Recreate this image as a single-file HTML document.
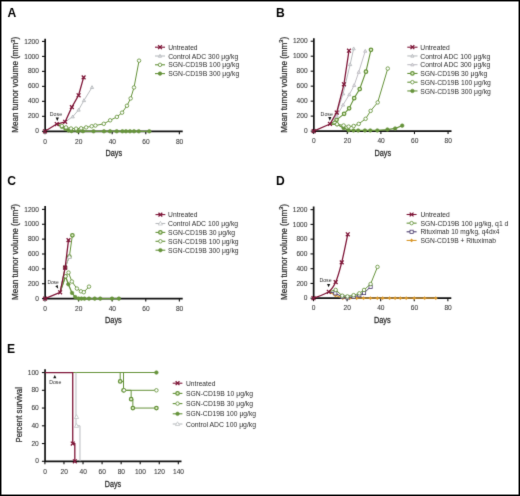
<!DOCTYPE html><html><head><meta charset="utf-8"><style>html,body{margin:0;padding:0;background:#fff;width:520px;height:496px;overflow:hidden}svg{display:block}text{font-family:"Liberation Sans",sans-serif}</style></head><body>
<svg width="520" height="496" viewBox="0 0 520 496">
<defs><filter id="bl" x="0" y="0" width="520" height="496" filterUnits="userSpaceOnUse" color-interpolation-filters="sRGB"><feConvolveMatrix order="3" kernelMatrix="0.01 0.08 0.01 0.08 0.64 0.08 0.01 0.08 0.01" edgeMode="duplicate" preserveAlpha="true"/></filter></defs>
<g filter="url(#bl)">
<rect x="0" y="0" width="520" height="496" fill="#fff"/>
<text x="7.6" y="16.7" font-size="12.1" text-anchor="start" fill="#000" color="#000" font-weight="bold">A</text>
<text x="276" y="16.8" font-size="12.1" text-anchor="start" fill="#000" color="#000" font-weight="bold">B</text>
<text x="7.3" y="184.5" font-size="12.1" text-anchor="start" fill="#000" color="#000" font-weight="bold">C</text>
<text x="276" y="184.6" font-size="12.1" text-anchor="start" fill="#000" color="#000" font-weight="bold">D</text>
<text x="7.1" y="352.6" font-size="12.1" text-anchor="start" fill="#000" color="#000" font-weight="bold">E</text>
<path d="M45.15 38.7V131.3H182.7" stroke="#111" stroke-width="1.7" fill="none"/>
<path d="M42 131.3H45" stroke="#111" stroke-width="1.1"/>
<text x="38.9" y="133.4" font-size="6.6" text-anchor="end" fill="#404040" color="#404040" stroke="#404040" stroke-width="0.1">0</text>
<path d="M42 116.32H45" stroke="#111" stroke-width="1.1"/>
<text x="38.9" y="118.42" font-size="6.6" text-anchor="end" fill="#404040" color="#404040" stroke="#404040" stroke-width="0.1">200</text>
<path d="M42 101.34H45" stroke="#111" stroke-width="1.1"/>
<text x="38.9" y="103.44" font-size="6.6" text-anchor="end" fill="#404040" color="#404040" stroke="#404040" stroke-width="0.1">400</text>
<path d="M42 86.36H45" stroke="#111" stroke-width="1.1"/>
<text x="38.9" y="88.46" font-size="6.6" text-anchor="end" fill="#404040" color="#404040" stroke="#404040" stroke-width="0.1">600</text>
<path d="M42 71.38H45" stroke="#111" stroke-width="1.1"/>
<text x="38.9" y="73.48" font-size="6.6" text-anchor="end" fill="#404040" color="#404040" stroke="#404040" stroke-width="0.1">800</text>
<path d="M42 56.4H45" stroke="#111" stroke-width="1.1"/>
<text x="38.9" y="58.5" font-size="6.6" text-anchor="end" fill="#404040" color="#404040" stroke="#404040" stroke-width="0.1">1000</text>
<path d="M42 41.42H45" stroke="#111" stroke-width="1.1"/>
<text x="38.9" y="43.52" font-size="6.6" text-anchor="end" fill="#404040" color="#404040" stroke="#404040" stroke-width="0.1">1200</text>
<path d="M45 131.3V134.3" stroke="#111" stroke-width="1.1"/>
<text x="45.2" y="143.5" font-size="6.6" text-anchor="middle" fill="#404040" color="#404040" stroke="#404040" stroke-width="0.1">0</text>
<path d="M78.59 131.3V134.3" stroke="#111" stroke-width="1.1"/>
<text x="78.79" y="143.5" font-size="6.6" text-anchor="middle" fill="#404040" color="#404040" stroke="#404040" stroke-width="0.1">20</text>
<path d="M112.18 131.3V134.3" stroke="#111" stroke-width="1.1"/>
<text x="112.38" y="143.5" font-size="6.6" text-anchor="middle" fill="#404040" color="#404040" stroke="#404040" stroke-width="0.1">40</text>
<path d="M145.77 131.3V134.3" stroke="#111" stroke-width="1.1"/>
<text x="145.97" y="143.5" font-size="6.6" text-anchor="middle" fill="#404040" color="#404040" stroke="#404040" stroke-width="0.1">60</text>
<path d="M179.36 131.3V134.3" stroke="#111" stroke-width="1.1"/>
<text x="179.56" y="143.5" font-size="6.6" text-anchor="middle" fill="#404040" color="#404040" stroke="#404040" stroke-width="0.1">80</text>
<text x="18.3" y="84.8" font-size="8.4" text-anchor="middle" fill="#2e2e2e" color="#2e2e2e" stroke="#2e2e2e" stroke-width="0.25" transform="rotate(-90 18.3 84.8)" textLength="96" lengthAdjust="spacingAndGlyphs">Mean tumor volume (mm<tspan dy="-3.6" font-size="5.8">3</tspan><tspan dy="3.6">)</tspan></text>
<text x="113.8" y="155.7" font-size="9.3" text-anchor="middle" fill="#2e2e2e" color="#2e2e2e" textLength="16.6" lengthAdjust="spacingAndGlyphs" stroke="#2e2e2e" stroke-width="0.3">Days</text>
<path d="M56.76 124.03L61.8 126.81L65.49 128.9L68.51 130.4L71.54 131.08L77.92 131.15L82.96 131.23L93.54 131.3L103.95 131.3L110 131.3L116.71 131.3L122.42 131.3L125.95 131.3L129.98 131.3L134.01 131.3L138.72 131.3L149.3 131.3" stroke="#66933b" stroke-width="1.3" fill="none" stroke-linejoin="round"/>
<circle cx="61.8" cy="126.81" r="1.8" stroke="#66933b" stroke-width="0.6" fill="#66933b"/>
<circle cx="65.49" cy="128.9" r="1.8" stroke="#66933b" stroke-width="0.6" fill="#66933b"/>
<circle cx="68.51" cy="130.4" r="1.8" stroke="#66933b" stroke-width="0.6" fill="#66933b"/>
<circle cx="71.54" cy="131.08" r="1.8" stroke="#66933b" stroke-width="0.6" fill="#66933b"/>
<circle cx="77.92" cy="131.15" r="1.8" stroke="#66933b" stroke-width="0.6" fill="#66933b"/>
<circle cx="82.96" cy="131.23" r="1.8" stroke="#66933b" stroke-width="0.6" fill="#66933b"/>
<circle cx="93.54" cy="131.3" r="1.8" stroke="#66933b" stroke-width="0.6" fill="#66933b"/>
<circle cx="103.95" cy="131.3" r="1.8" stroke="#66933b" stroke-width="0.6" fill="#66933b"/>
<circle cx="110" cy="131.3" r="1.8" stroke="#66933b" stroke-width="0.6" fill="#66933b"/>
<circle cx="116.71" cy="131.3" r="1.8" stroke="#66933b" stroke-width="0.6" fill="#66933b"/>
<circle cx="122.42" cy="131.3" r="1.8" stroke="#66933b" stroke-width="0.6" fill="#66933b"/>
<circle cx="125.95" cy="131.3" r="1.8" stroke="#66933b" stroke-width="0.6" fill="#66933b"/>
<circle cx="129.98" cy="131.3" r="1.8" stroke="#66933b" stroke-width="0.6" fill="#66933b"/>
<circle cx="134.01" cy="131.3" r="1.8" stroke="#66933b" stroke-width="0.6" fill="#66933b"/>
<circle cx="138.72" cy="131.3" r="1.8" stroke="#66933b" stroke-width="0.6" fill="#66933b"/>
<circle cx="149.3" cy="131.3" r="1.8" stroke="#66933b" stroke-width="0.6" fill="#66933b"/>
<path d="M56.76 124.03L61.8 125.91L65.99 127.41L71.03 128.53L76.07 128.68L81.11 128.3L86.15 127.41L91.69 126.28L95.38 125.53L103.78 123.81L110.16 120.29L116.88 116.92L122.09 112.65L126.96 105.76L130.65 98.42L134.01 87.48L139.05 60.67" stroke="#66933b" stroke-width="1.0" fill="none" stroke-linejoin="round"/>
<circle cx="61.8" cy="125.91" r="1.75" stroke="#66933b" stroke-width="0.85" fill="#fff"/>
<circle cx="65.99" cy="127.41" r="1.75" stroke="#66933b" stroke-width="0.85" fill="#fff"/>
<circle cx="71.03" cy="128.53" r="1.75" stroke="#66933b" stroke-width="0.85" fill="#fff"/>
<circle cx="76.07" cy="128.68" r="1.75" stroke="#66933b" stroke-width="0.85" fill="#fff"/>
<circle cx="81.11" cy="128.3" r="1.75" stroke="#66933b" stroke-width="0.85" fill="#fff"/>
<circle cx="86.15" cy="127.41" r="1.75" stroke="#66933b" stroke-width="0.85" fill="#fff"/>
<circle cx="91.69" cy="126.28" r="1.75" stroke="#66933b" stroke-width="0.85" fill="#fff"/>
<circle cx="95.38" cy="125.53" r="1.75" stroke="#66933b" stroke-width="0.85" fill="#fff"/>
<circle cx="103.78" cy="123.81" r="1.75" stroke="#66933b" stroke-width="0.85" fill="#fff"/>
<circle cx="110.16" cy="120.29" r="1.75" stroke="#66933b" stroke-width="0.85" fill="#fff"/>
<circle cx="116.88" cy="116.92" r="1.75" stroke="#66933b" stroke-width="0.85" fill="#fff"/>
<circle cx="122.09" cy="112.65" r="1.75" stroke="#66933b" stroke-width="0.85" fill="#fff"/>
<circle cx="126.96" cy="105.76" r="1.75" stroke="#66933b" stroke-width="0.85" fill="#fff"/>
<circle cx="130.65" cy="98.42" r="1.75" stroke="#66933b" stroke-width="0.85" fill="#fff"/>
<circle cx="134.01" cy="87.48" r="1.75" stroke="#66933b" stroke-width="0.85" fill="#fff"/>
<circle cx="139.05" cy="60.67" r="1.75" stroke="#66933b" stroke-width="0.85" fill="#fff"/>
<path d="M65.15 121.79L72.71 116.69L78.59 109.95L83.96 100.44L92.03 87.33" stroke="#b9bcbf" stroke-width="1.0" fill="none" stroke-linejoin="round"/>
<path d="M72.71 114.99L74.33 117.88L71.1 117.88Z" stroke="#b9bcbf" stroke-width="0.9" fill="#e4e4e6"/>
<path d="M78.59 108.25L80.2 111.14L76.98 111.14Z" stroke="#b9bcbf" stroke-width="0.9" fill="#e4e4e6"/>
<path d="M83.96 98.74L85.58 101.63L82.35 101.63Z" stroke="#b9bcbf" stroke-width="0.9" fill="#e4e4e6"/>
<path d="M92.03 85.63L93.64 88.52L90.41 88.52Z" stroke="#b9bcbf" stroke-width="0.9" fill="#e4e4e6"/>
<path d="M45 131.3L56.76 124.03L65.15 121.79L71.87 107.11L78.59 95.27L83.63 77.37" stroke="#7f1739" stroke-width="1.3" fill="none" stroke-linejoin="round"/>
<path d="M43.1 129.4L46.9 133.2M43.1 133.2L46.9 129.4" stroke="#7f1739" stroke-width="1.3" fill="none"/>
<path d="M54.86 122.13L58.66 125.93M54.86 125.93L58.66 122.13" stroke="#7f1739" stroke-width="1.3" fill="none"/>
<path d="M63.25 119.89L67.05 123.69M63.25 123.69L67.05 119.89" stroke="#7f1739" stroke-width="1.3" fill="none"/>
<path d="M69.97 105.21L73.77 109.01M69.97 109.01L73.77 105.21" stroke="#7f1739" stroke-width="1.3" fill="none"/>
<path d="M76.69 93.37L80.49 97.17M76.69 97.17L80.49 93.37" stroke="#7f1739" stroke-width="1.3" fill="none"/>
<path d="M81.73 75.47L85.53 79.27M81.73 79.27L85.53 75.47" stroke="#7f1739" stroke-width="1.3" fill="none"/>
<text x="49.8" y="115.5" font-size="5.5" text-anchor="start" fill="#2e2e2e" color="#2e2e2e" textLength="12.3" lengthAdjust="spacingAndGlyphs">Dose</text>
<path d="M55.7 117.4H58.9L57.3 121Z" fill="#111"/>
<path d="M155 47.2H165" stroke="#7f1739" stroke-width="1.1"/>
<path d="M158.1 45.3L161.9 49.1M158.1 49.1L161.9 45.3" stroke="#7f1739" stroke-width="1.3" fill="none"/>
<text x="168.2" y="49.8" font-size="6.8" text-anchor="start" fill="#2e2e2e" color="#2e2e2e" textLength="29.4" lengthAdjust="spacingAndGlyphs">Untreated</text>
<path d="M155 56H165" stroke="#b9bcbf" stroke-width="1.1"/>
<path d="M160 54.3L161.62 57.19L158.38 57.19Z" stroke="#b9bcbf" stroke-width="0.9" fill="#e4e4e6"/>
<text x="168.2" y="58.6" font-size="6.8" text-anchor="start" fill="#2e2e2e" color="#2e2e2e" textLength="70" lengthAdjust="spacingAndGlyphs">Control ADC 300 μg/kg</text>
<path d="M155 64.8H165" stroke="#66933b" stroke-width="1.1"/>
<circle cx="160" cy="64.8" r="1.75" stroke="#66933b" stroke-width="0.85" fill="#fff"/>
<text x="168.2" y="67.4" font-size="6.8" text-anchor="start" fill="#2e2e2e" color="#2e2e2e" textLength="71" lengthAdjust="spacingAndGlyphs">SGN-CD19B 100 μg/kg</text>
<path d="M155 73.6H165" stroke="#66933b" stroke-width="1.1"/>
<circle cx="160" cy="73.6" r="1.8" stroke="#66933b" stroke-width="0.6" fill="#66933b"/>
<text x="168.2" y="76.2" font-size="6.8" text-anchor="start" fill="#2e2e2e" color="#2e2e2e" textLength="71" lengthAdjust="spacingAndGlyphs">SGN-CD19B 300 μg/kg</text>
<path d="M313.85 38.3V131.1H451.5" stroke="#111" stroke-width="1.7" fill="none"/>
<path d="M310.7 131.1H313.7" stroke="#111" stroke-width="1.1"/>
<text x="307.6" y="133.2" font-size="6.6" text-anchor="end" fill="#404040" color="#404040" stroke="#404040" stroke-width="0.1">0</text>
<path d="M310.7 116.12H313.7" stroke="#111" stroke-width="1.1"/>
<text x="307.6" y="118.22" font-size="6.6" text-anchor="end" fill="#404040" color="#404040" stroke="#404040" stroke-width="0.1">200</text>
<path d="M310.7 101.14H313.7" stroke="#111" stroke-width="1.1"/>
<text x="307.6" y="103.24" font-size="6.6" text-anchor="end" fill="#404040" color="#404040" stroke="#404040" stroke-width="0.1">400</text>
<path d="M310.7 86.16H313.7" stroke="#111" stroke-width="1.1"/>
<text x="307.6" y="88.26" font-size="6.6" text-anchor="end" fill="#404040" color="#404040" stroke="#404040" stroke-width="0.1">600</text>
<path d="M310.7 71.18H313.7" stroke="#111" stroke-width="1.1"/>
<text x="307.6" y="73.28" font-size="6.6" text-anchor="end" fill="#404040" color="#404040" stroke="#404040" stroke-width="0.1">800</text>
<path d="M310.7 56.2H313.7" stroke="#111" stroke-width="1.1"/>
<text x="307.6" y="58.3" font-size="6.6" text-anchor="end" fill="#404040" color="#404040" stroke="#404040" stroke-width="0.1">1000</text>
<path d="M310.7 41.22H313.7" stroke="#111" stroke-width="1.1"/>
<text x="307.6" y="43.32" font-size="6.6" text-anchor="end" fill="#404040" color="#404040" stroke="#404040" stroke-width="0.1">1200</text>
<path d="M313.7 131.1V134.1" stroke="#111" stroke-width="1.1"/>
<text x="313.9" y="143.3" font-size="6.6" text-anchor="middle" fill="#404040" color="#404040" stroke="#404040" stroke-width="0.1">0</text>
<path d="M347.29 131.1V134.1" stroke="#111" stroke-width="1.1"/>
<text x="347.49" y="143.3" font-size="6.6" text-anchor="middle" fill="#404040" color="#404040" stroke="#404040" stroke-width="0.1">20</text>
<path d="M380.88 131.1V134.1" stroke="#111" stroke-width="1.1"/>
<text x="381.08" y="143.3" font-size="6.6" text-anchor="middle" fill="#404040" color="#404040" stroke="#404040" stroke-width="0.1">40</text>
<path d="M414.47 131.1V134.1" stroke="#111" stroke-width="1.1"/>
<text x="414.67" y="143.3" font-size="6.6" text-anchor="middle" fill="#404040" color="#404040" stroke="#404040" stroke-width="0.1">60</text>
<path d="M448.06 131.1V134.1" stroke="#111" stroke-width="1.1"/>
<text x="448.26" y="143.3" font-size="6.6" text-anchor="middle" fill="#404040" color="#404040" stroke="#404040" stroke-width="0.1">80</text>
<text x="287" y="84.8" font-size="8.4" text-anchor="middle" fill="#2e2e2e" color="#2e2e2e" stroke="#2e2e2e" stroke-width="0.25" transform="rotate(-90 287 84.8)" textLength="96" lengthAdjust="spacingAndGlyphs">Mean tumor volume (mm<tspan dy="-3.6" font-size="5.8">3</tspan><tspan dy="3.6">)</tspan></text>
<text x="382.8" y="155.7" font-size="9.3" text-anchor="middle" fill="#2e2e2e" color="#2e2e2e" textLength="16.6" lengthAdjust="spacingAndGlyphs" stroke="#2e2e2e" stroke-width="0.3">Days</text>
<path d="M329.99 123.98L337.05 124.28L343.6 128.1L348.63 130.2L353.5 130.43L358.21 130.43L364.92 130.43L370.3 130.43L377.35 130.43L387.43 129.53L395.16 128.48L402.21 125.63" stroke="#66933b" stroke-width="1.3" fill="none" stroke-linejoin="round"/>
<circle cx="337.05" cy="124.28" r="1.8" stroke="#66933b" stroke-width="0.6" fill="#66933b"/>
<circle cx="343.6" cy="128.1" r="1.8" stroke="#66933b" stroke-width="0.6" fill="#66933b"/>
<circle cx="348.63" cy="130.2" r="1.8" stroke="#66933b" stroke-width="0.6" fill="#66933b"/>
<circle cx="353.5" cy="130.43" r="1.8" stroke="#66933b" stroke-width="0.6" fill="#66933b"/>
<circle cx="358.21" cy="130.43" r="1.8" stroke="#66933b" stroke-width="0.6" fill="#66933b"/>
<circle cx="364.92" cy="130.43" r="1.8" stroke="#66933b" stroke-width="0.6" fill="#66933b"/>
<circle cx="370.3" cy="130.43" r="1.8" stroke="#66933b" stroke-width="0.6" fill="#66933b"/>
<circle cx="377.35" cy="130.43" r="1.8" stroke="#66933b" stroke-width="0.6" fill="#66933b"/>
<circle cx="387.43" cy="129.53" r="1.8" stroke="#66933b" stroke-width="0.6" fill="#66933b"/>
<circle cx="395.16" cy="128.48" r="1.8" stroke="#66933b" stroke-width="0.6" fill="#66933b"/>
<circle cx="402.21" cy="125.63" r="1.8" stroke="#66933b" stroke-width="0.6" fill="#66933b"/>
<path d="M329.99 123.98L337.05 124.28L343.6 125.48L348.63 126.61L353.67 126.01L358.71 123.91L365.6 118.82L370.64 110.88L377.69 102.41L387.77 68.56" stroke="#66933b" stroke-width="1.0" fill="none" stroke-linejoin="round"/>
<circle cx="337.05" cy="124.28" r="1.75" stroke="#66933b" stroke-width="0.85" fill="#fff"/>
<circle cx="343.6" cy="125.48" r="1.75" stroke="#66933b" stroke-width="0.85" fill="#fff"/>
<circle cx="348.63" cy="126.61" r="1.75" stroke="#66933b" stroke-width="0.85" fill="#fff"/>
<circle cx="353.67" cy="126.01" r="1.75" stroke="#66933b" stroke-width="0.85" fill="#fff"/>
<circle cx="358.71" cy="123.91" r="1.75" stroke="#66933b" stroke-width="0.85" fill="#fff"/>
<circle cx="365.6" cy="118.82" r="1.75" stroke="#66933b" stroke-width="0.85" fill="#fff"/>
<circle cx="370.64" cy="110.88" r="1.75" stroke="#66933b" stroke-width="0.85" fill="#fff"/>
<circle cx="377.69" cy="102.41" r="1.75" stroke="#66933b" stroke-width="0.85" fill="#fff"/>
<circle cx="387.77" cy="68.56" r="1.75" stroke="#66933b" stroke-width="0.85" fill="#fff"/>
<path d="M329.99 123.98L336.54 119.86L344.1 113.87L349.14 108.26L354.18 98.14L359.72 89.01L365.93 71.7L370.97 49.83" stroke="#66933b" stroke-width="1.1" fill="none" stroke-linejoin="round"/>
<circle cx="336.54" cy="119.86" r="1.75" stroke="#66933b" stroke-width="1.25" fill="#dfeec8"/>
<circle cx="344.1" cy="113.87" r="1.75" stroke="#66933b" stroke-width="1.25" fill="#dfeec8"/>
<circle cx="349.14" cy="108.26" r="1.75" stroke="#66933b" stroke-width="1.25" fill="#dfeec8"/>
<circle cx="354.18" cy="98.14" r="1.75" stroke="#66933b" stroke-width="1.25" fill="#dfeec8"/>
<circle cx="359.72" cy="89.01" r="1.75" stroke="#66933b" stroke-width="1.25" fill="#dfeec8"/>
<circle cx="365.93" cy="71.7" r="1.75" stroke="#66933b" stroke-width="1.25" fill="#dfeec8"/>
<circle cx="370.97" cy="49.83" r="1.75" stroke="#66933b" stroke-width="1.25" fill="#dfeec8"/>
<path d="M329.99 123.98L336.71 116.12L343.09 104.88L349.31 94.55L354.18 85.34L358.71 72.15L365.26 51.03" stroke="#bfbdc4" stroke-width="1.0" fill="none" stroke-linejoin="round"/>
<path d="M336.71 114.42L338.32 117.31L335.09 117.31Z" stroke="#bfbdc4" stroke-width="0.9" fill="#e4e4e6"/>
<path d="M343.09 103.18L344.71 106.07L341.48 106.07Z" stroke="#bfbdc4" stroke-width="0.9" fill="#e4e4e6"/>
<path d="M349.31 92.85L350.92 95.74L347.69 95.74Z" stroke="#bfbdc4" stroke-width="0.9" fill="#e4e4e6"/>
<path d="M354.18 83.64L355.79 86.53L352.56 86.53Z" stroke="#bfbdc4" stroke-width="0.9" fill="#e4e4e6"/>
<path d="M358.71 70.45L360.33 73.34L357.1 73.34Z" stroke="#bfbdc4" stroke-width="0.9" fill="#e4e4e6"/>
<path d="M365.26 49.33L366.88 52.22L363.65 52.22Z" stroke="#bfbdc4" stroke-width="0.9" fill="#e4e4e6"/>
<path d="M329.99 123.98L336.71 113.12L343.09 93.65L350.15 64.44L353.67 48.64" stroke="#b9bcbf" stroke-width="1.0" fill="none" stroke-linejoin="round"/>
<path d="M336.71 111.42L338.32 114.31L335.09 114.31Z" stroke="#b9bcbf" stroke-width="0.9" fill="#e4e4e6"/>
<path d="M343.09 91.95L344.71 94.84L341.48 94.84Z" stroke="#b9bcbf" stroke-width="0.9" fill="#e4e4e6"/>
<path d="M350.15 62.74L351.76 65.63L348.53 65.63Z" stroke="#b9bcbf" stroke-width="0.9" fill="#e4e4e6"/>
<path d="M353.67 46.94L355.29 49.83L352.06 49.83Z" stroke="#b9bcbf" stroke-width="0.9" fill="#e4e4e6"/>
<path d="M313.7 131.1L329.99 123.98L336.71 112.52L343.93 84.29L348.97 50.73" stroke="#7f1739" stroke-width="1.3" fill="none" stroke-linejoin="round"/>
<path d="M311.8 129.2L315.6 133M311.8 133L315.6 129.2" stroke="#7f1739" stroke-width="1.3" fill="none"/>
<path d="M328.09 122.08L331.89 125.88M328.09 125.88L331.89 122.08" stroke="#7f1739" stroke-width="1.3" fill="none"/>
<path d="M334.81 110.62L338.61 114.42M334.81 114.42L338.61 110.62" stroke="#7f1739" stroke-width="1.3" fill="none"/>
<path d="M342.03 82.39L345.83 86.19M342.03 86.19L345.83 82.39" stroke="#7f1739" stroke-width="1.3" fill="none"/>
<path d="M347.07 48.83L350.87 52.63M347.07 52.63L350.87 48.83" stroke="#7f1739" stroke-width="1.3" fill="none"/>
<text x="320.6" y="115.6" font-size="5.5" text-anchor="start" fill="#2e2e2e" color="#2e2e2e" textLength="12.3" lengthAdjust="spacingAndGlyphs">Dose</text>
<path d="M328.2 117.1H331.4L329.8 120.7Z" fill="#111"/>
<path d="M407.3 47.2H417.5" stroke="#7f1739" stroke-width="1.1"/>
<path d="M410.5 45.3L414.3 49.1M410.5 49.1L414.3 45.3" stroke="#7f1739" stroke-width="1.3" fill="none"/>
<text x="420.3" y="49.8" font-size="6.8" text-anchor="start" fill="#2e2e2e" color="#2e2e2e" textLength="29.4" lengthAdjust="spacingAndGlyphs">Untreated</text>
<path d="M407.3 55.95H417.5" stroke="#b9bcbf" stroke-width="1.1"/>
<path d="M412.4 54.25L414.01 57.14L410.78 57.14Z" stroke="#b9bcbf" stroke-width="0.9" fill="#e4e4e6"/>
<text x="420.3" y="58.55" font-size="6.8" text-anchor="start" fill="#2e2e2e" color="#2e2e2e" textLength="70" lengthAdjust="spacingAndGlyphs">Control ADC 100 μg/kg</text>
<path d="M407.3 64.7H417.5" stroke="#bfbdc4" stroke-width="1.1"/>
<path d="M412.4 63L414.01 65.89L410.78 65.89Z" stroke="#bfbdc4" stroke-width="0.9" fill="#e4e4e6"/>
<text x="420.3" y="67.3" font-size="6.8" text-anchor="start" fill="#2e2e2e" color="#2e2e2e" textLength="70" lengthAdjust="spacingAndGlyphs">Control ADC 300 μg/kg</text>
<path d="M407.3 73.45H417.5" stroke="#66933b" stroke-width="1.1"/>
<circle cx="412.4" cy="73.45" r="1.75" stroke="#66933b" stroke-width="1.25" fill="#dfeec8"/>
<text x="420.3" y="76.05" font-size="6.8" text-anchor="start" fill="#2e2e2e" color="#2e2e2e" textLength="67" lengthAdjust="spacingAndGlyphs">SGN-CD19B 30 μg/kg</text>
<path d="M407.3 82.2H417.5" stroke="#66933b" stroke-width="1.1"/>
<circle cx="412.4" cy="82.2" r="1.75" stroke="#66933b" stroke-width="0.85" fill="#fff"/>
<text x="420.3" y="84.8" font-size="6.8" text-anchor="start" fill="#2e2e2e" color="#2e2e2e" textLength="70.5" lengthAdjust="spacingAndGlyphs">SGN-CD19B 100 μg/kg</text>
<path d="M407.3 90.95H417.5" stroke="#66933b" stroke-width="1.1"/>
<circle cx="412.4" cy="90.95" r="1.8" stroke="#66933b" stroke-width="0.6" fill="#66933b"/>
<text x="420.3" y="93.55" font-size="6.8" text-anchor="start" fill="#2e2e2e" color="#2e2e2e" textLength="70.5" lengthAdjust="spacingAndGlyphs">SGN-CD19B 300 μg/kg</text>
<path d="M45.15 206.1V298.6H182.7" stroke="#111" stroke-width="1.7" fill="none"/>
<path d="M42 298.6H45" stroke="#111" stroke-width="1.1"/>
<text x="38.9" y="300.7" font-size="6.6" text-anchor="end" fill="#404040" color="#404040" stroke="#404040" stroke-width="0.1">0</text>
<path d="M42 283.73H45" stroke="#111" stroke-width="1.1"/>
<text x="38.9" y="285.83" font-size="6.6" text-anchor="end" fill="#404040" color="#404040" stroke="#404040" stroke-width="0.1">200</text>
<path d="M42 268.87H45" stroke="#111" stroke-width="1.1"/>
<text x="38.9" y="270.97" font-size="6.6" text-anchor="end" fill="#404040" color="#404040" stroke="#404040" stroke-width="0.1">400</text>
<path d="M42 254H45" stroke="#111" stroke-width="1.1"/>
<text x="38.9" y="256.1" font-size="6.6" text-anchor="end" fill="#404040" color="#404040" stroke="#404040" stroke-width="0.1">600</text>
<path d="M42 239.14H45" stroke="#111" stroke-width="1.1"/>
<text x="38.9" y="241.24" font-size="6.6" text-anchor="end" fill="#404040" color="#404040" stroke="#404040" stroke-width="0.1">800</text>
<path d="M42 224.27H45" stroke="#111" stroke-width="1.1"/>
<text x="38.9" y="226.37" font-size="6.6" text-anchor="end" fill="#404040" color="#404040" stroke="#404040" stroke-width="0.1">1000</text>
<path d="M42 209.4H45" stroke="#111" stroke-width="1.1"/>
<text x="38.9" y="211.5" font-size="6.6" text-anchor="end" fill="#404040" color="#404040" stroke="#404040" stroke-width="0.1">1200</text>
<path d="M45 298.6V301.6" stroke="#111" stroke-width="1.1"/>
<text x="45.2" y="310.8" font-size="6.6" text-anchor="middle" fill="#404040" color="#404040" stroke="#404040" stroke-width="0.1">0</text>
<path d="M78.59 298.6V301.6" stroke="#111" stroke-width="1.1"/>
<text x="78.79" y="310.8" font-size="6.6" text-anchor="middle" fill="#404040" color="#404040" stroke="#404040" stroke-width="0.1">20</text>
<path d="M112.18 298.6V301.6" stroke="#111" stroke-width="1.1"/>
<text x="112.38" y="310.8" font-size="6.6" text-anchor="middle" fill="#404040" color="#404040" stroke="#404040" stroke-width="0.1">40</text>
<path d="M145.77 298.6V301.6" stroke="#111" stroke-width="1.1"/>
<text x="145.97" y="310.8" font-size="6.6" text-anchor="middle" fill="#404040" color="#404040" stroke="#404040" stroke-width="0.1">60</text>
<path d="M179.36 298.6V301.6" stroke="#111" stroke-width="1.1"/>
<text x="179.56" y="310.8" font-size="6.6" text-anchor="middle" fill="#404040" color="#404040" stroke="#404040" stroke-width="0.1">80</text>
<text x="18.4" y="252" font-size="8.4" text-anchor="middle" fill="#2e2e2e" color="#2e2e2e" stroke="#2e2e2e" stroke-width="0.25" transform="rotate(-90 18.4 252)" textLength="96" lengthAdjust="spacingAndGlyphs">Mean tumor volume (mm<tspan dy="-3.6" font-size="5.8">3</tspan><tspan dy="3.6">)</tspan></text>
<text x="113.4" y="323.4" font-size="9.3" text-anchor="middle" fill="#2e2e2e" color="#2e2e2e" textLength="16.8" lengthAdjust="spacingAndGlyphs" stroke="#2e2e2e" stroke-width="0.3">Days</text>
<path d="M60.12 292.28L65.49 276.3L68.35 284.18L72.04 292.95L75.23 297.11L78.59 298.6L81.45 298.6L84.47 298.6L89 298.6L94.71 298.6L100.26 298.6L112.01 298.6L118.9 298.6" stroke="#66933b" stroke-width="1.3" fill="none" stroke-linejoin="round"/>
<circle cx="65.49" cy="276.3" r="1.8" stroke="#66933b" stroke-width="0.6" fill="#66933b"/>
<circle cx="68.35" cy="284.18" r="1.8" stroke="#66933b" stroke-width="0.6" fill="#66933b"/>
<circle cx="72.04" cy="292.95" r="1.8" stroke="#66933b" stroke-width="0.6" fill="#66933b"/>
<circle cx="75.23" cy="297.11" r="1.8" stroke="#66933b" stroke-width="0.6" fill="#66933b"/>
<circle cx="78.59" cy="298.6" r="1.8" stroke="#66933b" stroke-width="0.6" fill="#66933b"/>
<circle cx="81.45" cy="298.6" r="1.8" stroke="#66933b" stroke-width="0.6" fill="#66933b"/>
<circle cx="84.47" cy="298.6" r="1.8" stroke="#66933b" stroke-width="0.6" fill="#66933b"/>
<circle cx="89" cy="298.6" r="1.8" stroke="#66933b" stroke-width="0.6" fill="#66933b"/>
<circle cx="94.71" cy="298.6" r="1.8" stroke="#66933b" stroke-width="0.6" fill="#66933b"/>
<circle cx="100.26" cy="298.6" r="1.8" stroke="#66933b" stroke-width="0.6" fill="#66933b"/>
<circle cx="112.01" cy="298.6" r="1.8" stroke="#66933b" stroke-width="0.6" fill="#66933b"/>
<circle cx="118.9" cy="298.6" r="1.8" stroke="#66933b" stroke-width="0.6" fill="#66933b"/>
<path d="M60.12 292.28L65.49 276.3L68.51 272.58L71.87 281.5L76.91 288.57L80.94 291.32L83.8 292.21L89 286.63" stroke="#66933b" stroke-width="1.0" fill="none" stroke-linejoin="round"/>
<circle cx="65.49" cy="276.3" r="1.75" stroke="#66933b" stroke-width="0.85" fill="#fff"/>
<circle cx="68.51" cy="272.58" r="1.75" stroke="#66933b" stroke-width="0.85" fill="#fff"/>
<circle cx="71.87" cy="281.5" r="1.75" stroke="#66933b" stroke-width="0.85" fill="#fff"/>
<circle cx="76.91" cy="288.57" r="1.75" stroke="#66933b" stroke-width="0.85" fill="#fff"/>
<circle cx="80.94" cy="291.32" r="1.75" stroke="#66933b" stroke-width="0.85" fill="#fff"/>
<circle cx="83.8" cy="292.21" r="1.75" stroke="#66933b" stroke-width="0.85" fill="#fff"/>
<circle cx="89" cy="286.63" r="1.75" stroke="#66933b" stroke-width="0.85" fill="#fff"/>
<path d="M60.12 292.28L65.15 267.68L69.35 256.68L72.38 235.27" stroke="#66933b" stroke-width="1.0" fill="none" stroke-linejoin="round"/>
<circle cx="65.15" cy="267.68" r="1.75" stroke="#66933b" stroke-width="1.25" fill="#dfeec8"/>
<circle cx="69.35" cy="256.68" r="1.75" stroke="#66933b" stroke-width="1.25" fill="#dfeec8"/>
<circle cx="72.38" cy="235.27" r="1.75" stroke="#66933b" stroke-width="1.25" fill="#dfeec8"/>
<path d="M60.12 292.28L65.15 267.68L69.35 256.98" stroke="#b9bcbf" stroke-width="0.9" fill="none" stroke-linejoin="round"/>
<path d="M65.15 265.48L67.24 269.22L63.06 269.22Z" stroke="#b9bcbf" stroke-width="0.7" fill="#fff"/>
<path d="M69.35 254.78L71.44 258.52L67.26 258.52Z" stroke="#b9bcbf" stroke-width="0.7" fill="#fff"/>
<path d="M45 298.6L60.12 292.28L65.15 267.68L68.51 240.1" stroke="#7f1739" stroke-width="1.3" fill="none" stroke-linejoin="round"/>
<path d="M43.1 296.7L46.9 300.5M43.1 300.5L46.9 296.7" stroke="#7f1739" stroke-width="1.3" fill="none"/>
<path d="M58.22 290.38L62.02 294.18M58.22 294.18L62.02 290.38" stroke="#7f1739" stroke-width="1.3" fill="none"/>
<path d="M63.25 265.78L67.05 269.58M63.25 269.58L67.05 265.78" stroke="#7f1739" stroke-width="1.3" fill="none"/>
<path d="M66.61 238.2L70.41 242M66.61 242L70.41 238.2" stroke="#7f1739" stroke-width="1.3" fill="none"/>
<rect x="63.55" y="265.88" width="3.2" height="3.6" fill="#7f1739"/>
<text x="47.4" y="283.5" font-size="5.5" text-anchor="start" fill="#2e2e2e" color="#2e2e2e" textLength="11.3" lengthAdjust="spacingAndGlyphs">Dose</text>
<path d="M55.3 286.3L57.7 284.9L58.2 288.7Z" fill="#111"/>
<path d="M155.5 214.6H165.3" stroke="#7f1739" stroke-width="1.1"/>
<path d="M158.5 212.7L162.3 216.5M158.5 216.5L162.3 212.7" stroke="#7f1739" stroke-width="1.3" fill="none"/>
<text x="168.1" y="217.2" font-size="6.8" text-anchor="start" fill="#2e2e2e" color="#2e2e2e" textLength="29.4" lengthAdjust="spacingAndGlyphs">Untreated</text>
<path d="M155.5 223.5H165.3" stroke="#b9bcbf" stroke-width="1.1"/>
<path d="M160.4 221.3L162.49 225.04L158.31 225.04Z" stroke="#b9bcbf" stroke-width="0.7" fill="#fff"/>
<text x="168.1" y="226.1" font-size="6.8" text-anchor="start" fill="#2e2e2e" color="#2e2e2e" textLength="70" lengthAdjust="spacingAndGlyphs">Control ADC 100 μg/kg</text>
<path d="M155.5 232.4H165.3" stroke="#66933b" stroke-width="1.1"/>
<circle cx="160.4" cy="232.4" r="1.75" stroke="#66933b" stroke-width="1.25" fill="#dfeec8"/>
<text x="168.1" y="235" font-size="6.8" text-anchor="start" fill="#2e2e2e" color="#2e2e2e" textLength="67" lengthAdjust="spacingAndGlyphs">SGN-CD19B 30 μg/kg</text>
<path d="M155.5 241.3H165.3" stroke="#66933b" stroke-width="1.1"/>
<circle cx="160.4" cy="241.3" r="1.75" stroke="#66933b" stroke-width="0.85" fill="#fff"/>
<text x="168.1" y="243.9" font-size="6.8" text-anchor="start" fill="#2e2e2e" color="#2e2e2e" textLength="70.5" lengthAdjust="spacingAndGlyphs">SGN-CD19B 100 μg/kg</text>
<path d="M155.5 250.2H165.3" stroke="#66933b" stroke-width="1.1"/>
<circle cx="160.4" cy="250.2" r="1.8" stroke="#66933b" stroke-width="0.6" fill="#66933b"/>
<text x="168.1" y="252.8" font-size="6.8" text-anchor="start" fill="#2e2e2e" color="#2e2e2e" textLength="70.5" lengthAdjust="spacingAndGlyphs">SGN-CD19B 300 μg/kg</text>
<path d="M313.65 206.5V298.2H451.3" stroke="#111" stroke-width="1.7" fill="none"/>
<path d="M310.5 298.2H313.5" stroke="#111" stroke-width="1.1"/>
<text x="307.4" y="300.3" font-size="6.6" text-anchor="end" fill="#404040" color="#404040" stroke="#404040" stroke-width="0.1">0</text>
<path d="M310.5 283.44H313.5" stroke="#111" stroke-width="1.1"/>
<text x="307.4" y="285.54" font-size="6.6" text-anchor="end" fill="#404040" color="#404040" stroke="#404040" stroke-width="0.1">200</text>
<path d="M310.5 268.68H313.5" stroke="#111" stroke-width="1.1"/>
<text x="307.4" y="270.78" font-size="6.6" text-anchor="end" fill="#404040" color="#404040" stroke="#404040" stroke-width="0.1">400</text>
<path d="M310.5 253.92H313.5" stroke="#111" stroke-width="1.1"/>
<text x="307.4" y="256.02" font-size="6.6" text-anchor="end" fill="#404040" color="#404040" stroke="#404040" stroke-width="0.1">600</text>
<path d="M310.5 239.16H313.5" stroke="#111" stroke-width="1.1"/>
<text x="307.4" y="241.26" font-size="6.6" text-anchor="end" fill="#404040" color="#404040" stroke="#404040" stroke-width="0.1">800</text>
<path d="M310.5 224.4H313.5" stroke="#111" stroke-width="1.1"/>
<text x="307.4" y="226.5" font-size="6.6" text-anchor="end" fill="#404040" color="#404040" stroke="#404040" stroke-width="0.1">1000</text>
<path d="M310.5 209.64H313.5" stroke="#111" stroke-width="1.1"/>
<text x="307.4" y="211.74" font-size="6.6" text-anchor="end" fill="#404040" color="#404040" stroke="#404040" stroke-width="0.1">1200</text>
<path d="M313.5 298.2V301.2" stroke="#111" stroke-width="1.1"/>
<text x="313.7" y="310.4" font-size="6.6" text-anchor="middle" fill="#404040" color="#404040" stroke="#404040" stroke-width="0.1">0</text>
<path d="M347.09 298.2V301.2" stroke="#111" stroke-width="1.1"/>
<text x="347.29" y="310.4" font-size="6.6" text-anchor="middle" fill="#404040" color="#404040" stroke="#404040" stroke-width="0.1">20</text>
<path d="M380.68 298.2V301.2" stroke="#111" stroke-width="1.1"/>
<text x="380.88" y="310.4" font-size="6.6" text-anchor="middle" fill="#404040" color="#404040" stroke="#404040" stroke-width="0.1">40</text>
<path d="M414.27 298.2V301.2" stroke="#111" stroke-width="1.1"/>
<text x="414.47" y="310.4" font-size="6.6" text-anchor="middle" fill="#404040" color="#404040" stroke="#404040" stroke-width="0.1">60</text>
<path d="M447.86 298.2V301.2" stroke="#111" stroke-width="1.1"/>
<text x="448.06" y="310.4" font-size="6.6" text-anchor="middle" fill="#404040" color="#404040" stroke="#404040" stroke-width="0.1">80</text>
<text x="287" y="252" font-size="8.4" text-anchor="middle" fill="#2e2e2e" color="#2e2e2e" stroke="#2e2e2e" stroke-width="0.25" transform="rotate(-90 287 252)" textLength="96" lengthAdjust="spacingAndGlyphs">Mean tumor volume (mm<tspan dy="-3.6" font-size="5.8">3</tspan><tspan dy="3.6">)</tspan></text>
<text x="382.3" y="323.2" font-size="9.3" text-anchor="middle" fill="#2e2e2e" color="#2e2e2e" textLength="16.8" lengthAdjust="spacingAndGlyphs" stroke="#2e2e2e" stroke-width="0.3">Days</text>
<path d="M328.78 291.78L335.33 295.25L342.72 298.2L349.61 298.2L356.66 298.2L363.55 298.2L370.44 298.2L377.32 298.2L382.7 298.2L389.58 298.2L395.12 298.2L400.33 298.2L406.21 298.2L414.27 298.2L424.68 298.2L435.77 298.2" stroke="#d9982c" stroke-width="1.3" fill="none" stroke-linejoin="round"/>
<path d="M335.33 293.35L337.23 295.25L335.33 297.15L333.43 295.25Z" fill="#d9982c"/>
<path d="M342.72 296.3L344.62 298.2L342.72 300.1L340.82 298.2Z" fill="#d9982c"/>
<path d="M349.61 296.3L351.51 298.2L349.61 300.1L347.71 298.2Z" fill="#d9982c"/>
<path d="M356.66 296.3L358.56 298.2L356.66 300.1L354.76 298.2Z" fill="#d9982c"/>
<path d="M363.55 296.3L365.45 298.2L363.55 300.1L361.65 298.2Z" fill="#d9982c"/>
<path d="M370.44 296.3L372.34 298.2L370.44 300.1L368.54 298.2Z" fill="#d9982c"/>
<path d="M377.32 296.3L379.22 298.2L377.32 300.1L375.42 298.2Z" fill="#d9982c"/>
<path d="M382.7 296.3L384.6 298.2L382.7 300.1L380.8 298.2Z" fill="#d9982c"/>
<path d="M389.58 296.3L391.48 298.2L389.58 300.1L387.68 298.2Z" fill="#d9982c"/>
<path d="M395.12 296.3L397.02 298.2L395.12 300.1L393.22 298.2Z" fill="#d9982c"/>
<path d="M400.33 296.3L402.23 298.2L400.33 300.1L398.43 298.2Z" fill="#d9982c"/>
<path d="M406.21 296.3L408.11 298.2L406.21 300.1L404.31 298.2Z" fill="#d9982c"/>
<path d="M414.27 296.3L416.17 298.2L414.27 300.1L412.37 298.2Z" fill="#d9982c"/>
<path d="M424.68 296.3L426.58 298.2L424.68 300.1L422.78 298.2Z" fill="#d9982c"/>
<path d="M435.77 296.3L437.67 298.2L435.77 300.1L433.87 298.2Z" fill="#d9982c"/>
<path d="M328.78 291.78L335.33 293.33L342.22 296.72L347.43 297.46L353.64 296.72L359.35 295.25L364.05 293.03L370.6 286.83" stroke="#4b3d6e" stroke-width="1.0" fill="none" stroke-linejoin="round"/>
<rect x="333.73" y="291.73" width="3.2" height="3.2" stroke="#4b3d6e" stroke-width="0.8" fill="#fff"/>
<rect x="340.62" y="295.12" width="3.2" height="3.2" stroke="#4b3d6e" stroke-width="0.8" fill="#fff"/>
<rect x="345.83" y="295.86" width="3.2" height="3.2" stroke="#4b3d6e" stroke-width="0.8" fill="#fff"/>
<rect x="352.04" y="295.12" width="3.2" height="3.2" stroke="#4b3d6e" stroke-width="0.8" fill="#fff"/>
<rect x="357.75" y="293.65" width="3.2" height="3.2" stroke="#4b3d6e" stroke-width="0.8" fill="#fff"/>
<rect x="362.45" y="291.43" width="3.2" height="3.2" stroke="#4b3d6e" stroke-width="0.8" fill="#fff"/>
<rect x="369" y="285.23" width="3.2" height="3.2" stroke="#4b3d6e" stroke-width="0.8" fill="#fff"/>
<path d="M328.78 291.78L335.67 289.93L342.22 295.69L347.43 296.43L353.64 295.17L359.35 293.33L364.05 289.93L370.6 284.03L377.49 266.91" stroke="#66933b" stroke-width="1.0" fill="none" stroke-linejoin="round"/>
<circle cx="335.67" cy="289.93" r="1.75" stroke="#66933b" stroke-width="0.85" fill="#fff"/>
<circle cx="342.22" cy="295.69" r="1.75" stroke="#66933b" stroke-width="0.85" fill="#fff"/>
<circle cx="347.43" cy="296.43" r="1.75" stroke="#66933b" stroke-width="0.85" fill="#fff"/>
<circle cx="353.64" cy="295.17" r="1.75" stroke="#66933b" stroke-width="0.85" fill="#fff"/>
<circle cx="359.35" cy="293.33" r="1.75" stroke="#66933b" stroke-width="0.85" fill="#fff"/>
<circle cx="364.05" cy="289.93" r="1.75" stroke="#66933b" stroke-width="0.85" fill="#fff"/>
<circle cx="370.6" cy="284.03" r="1.75" stroke="#66933b" stroke-width="0.85" fill="#fff"/>
<circle cx="377.49" cy="266.91" r="1.75" stroke="#66933b" stroke-width="0.85" fill="#fff"/>
<path d="M313.5 298.2C316.05 297.13 325.09 294.46 328.78 291.78C332.48 289.1 333.51 287.02 335.67 282.11C337.82 277.2 339.7 270.3 341.72 262.33C343.73 254.36 346.75 238.96 347.76 234.29" stroke="#7f1739" stroke-width="1.3" fill="none" stroke-linejoin="round"/>
<path d="M311.6 296.3L315.4 300.1M311.6 300.1L315.4 296.3" stroke="#7f1739" stroke-width="1.3" fill="none"/>
<path d="M326.88 289.88L330.68 293.68M326.88 293.68L330.68 289.88" stroke="#7f1739" stroke-width="1.3" fill="none"/>
<path d="M333.77 280.21L337.57 284.01M333.77 284.01L337.57 280.21" stroke="#7f1739" stroke-width="1.3" fill="none"/>
<path d="M339.82 260.43L343.62 264.23M339.82 264.23L343.62 260.43" stroke="#7f1739" stroke-width="1.3" fill="none"/>
<path d="M345.86 232.39L349.66 236.19M345.86 236.19L349.66 232.39" stroke="#7f1739" stroke-width="1.3" fill="none"/>
<text x="319.4" y="282.4" font-size="5.5" text-anchor="start" fill="#2e2e2e" color="#2e2e2e" textLength="12.3" lengthAdjust="spacingAndGlyphs">Dose</text>
<path d="M327 284.1H330.2L328.6 287.3Z" fill="#111"/>
<path d="M406.6 214.5H416.6" stroke="#7f1739" stroke-width="1.1"/>
<path d="M409.7 212.6L413.5 216.4M409.7 216.4L413.5 212.6" stroke="#7f1739" stroke-width="1.3" fill="none"/>
<text x="420.4" y="217.1" font-size="6.8" text-anchor="start" fill="#2e2e2e" color="#2e2e2e" textLength="29.4" lengthAdjust="spacingAndGlyphs">Untreated</text>
<path d="M406.6 223.15H416.6" stroke="#66933b" stroke-width="1.1"/>
<circle cx="411.6" cy="223.15" r="1.75" stroke="#66933b" stroke-width="0.85" fill="#fff"/>
<text x="420.4" y="225.75" font-size="6.8" text-anchor="start" fill="#2e2e2e" color="#2e2e2e" textLength="88" lengthAdjust="spacingAndGlyphs">SGN-CD19B 100 μg/kg, q1 d</text>
<path d="M406.6 231.8H416.6" stroke="#4b3d6e" stroke-width="1.1"/>
<rect x="410" y="230.2" width="3.2" height="3.2" stroke="#4b3d6e" stroke-width="0.8" fill="#fff"/>
<text x="420.4" y="234.4" font-size="6.8" text-anchor="start" fill="#2e2e2e" color="#2e2e2e" textLength="79" lengthAdjust="spacingAndGlyphs">Rituximab 10 mg/kg, q4dx4</text>
<path d="M406.6 240.45H416.6" stroke="#d9982c" stroke-width="1.1"/>
<path d="M411.6 238.55L413.5 240.45L411.6 242.35L409.7 240.45Z" fill="#d9982c"/>
<text x="420.4" y="243.05" font-size="6.8" text-anchor="start" fill="#2e2e2e" color="#2e2e2e" textLength="75.5" lengthAdjust="spacingAndGlyphs">SGN-CD19B + Rituximab</text>
<path d="M45.05 369.3V461.3H181.5" stroke="#111" stroke-width="1.7" fill="none"/>
<path d="M41.9 461.3H44.9" stroke="#111" stroke-width="1.1"/>
<text x="38.8" y="463.4" font-size="6.6" text-anchor="end" fill="#404040" color="#404040" stroke="#404040" stroke-width="0.1">0</text>
<path d="M41.9 443.55H44.9" stroke="#111" stroke-width="1.1"/>
<text x="38.8" y="445.65" font-size="6.6" text-anchor="end" fill="#404040" color="#404040" stroke="#404040" stroke-width="0.1">20</text>
<path d="M41.9 425.8H44.9" stroke="#111" stroke-width="1.1"/>
<text x="38.8" y="427.9" font-size="6.6" text-anchor="end" fill="#404040" color="#404040" stroke="#404040" stroke-width="0.1">40</text>
<path d="M41.9 408.05H44.9" stroke="#111" stroke-width="1.1"/>
<text x="38.8" y="410.15" font-size="6.6" text-anchor="end" fill="#404040" color="#404040" stroke="#404040" stroke-width="0.1">60</text>
<path d="M41.9 390.3H44.9" stroke="#111" stroke-width="1.1"/>
<text x="38.8" y="392.4" font-size="6.6" text-anchor="end" fill="#404040" color="#404040" stroke="#404040" stroke-width="0.1">80</text>
<path d="M41.9 372.55H44.9" stroke="#111" stroke-width="1.1"/>
<text x="38.8" y="374.65" font-size="6.6" text-anchor="end" fill="#404040" color="#404040" stroke="#404040" stroke-width="0.1">100</text>
<path d="M44.9 461.3V464.3" stroke="#111" stroke-width="1.1"/>
<text x="45.1" y="473.8" font-size="6.6" text-anchor="middle" fill="#404040" color="#404040" stroke="#404040" stroke-width="0.1">0</text>
<path d="M63.96 461.3V464.3" stroke="#111" stroke-width="1.1"/>
<text x="64.16" y="473.8" font-size="6.6" text-anchor="middle" fill="#404040" color="#404040" stroke="#404040" stroke-width="0.1">20</text>
<path d="M83.02 461.3V464.3" stroke="#111" stroke-width="1.1"/>
<text x="83.22" y="473.8" font-size="6.6" text-anchor="middle" fill="#404040" color="#404040" stroke="#404040" stroke-width="0.1">40</text>
<path d="M102.08 461.3V464.3" stroke="#111" stroke-width="1.1"/>
<text x="102.28" y="473.8" font-size="6.6" text-anchor="middle" fill="#404040" color="#404040" stroke="#404040" stroke-width="0.1">60</text>
<path d="M121.14 461.3V464.3" stroke="#111" stroke-width="1.1"/>
<text x="121.34" y="473.8" font-size="6.6" text-anchor="middle" fill="#404040" color="#404040" stroke="#404040" stroke-width="0.1">80</text>
<path d="M140.2 461.3V464.3" stroke="#111" stroke-width="1.1"/>
<text x="140.4" y="473.8" font-size="6.6" text-anchor="middle" fill="#404040" color="#404040" stroke="#404040" stroke-width="0.1">100</text>
<path d="M159.26 461.3V464.3" stroke="#111" stroke-width="1.1"/>
<text x="159.46" y="473.8" font-size="6.6" text-anchor="middle" fill="#404040" color="#404040" stroke="#404040" stroke-width="0.1">120</text>
<path d="M178.32 461.3V464.3" stroke="#111" stroke-width="1.1"/>
<text x="178.52" y="473.8" font-size="6.6" text-anchor="middle" fill="#404040" color="#404040" stroke="#404040" stroke-width="0.1">140</text>
<text x="21.7" y="414.8" font-size="8.8" text-anchor="middle" fill="#2e2e2e" color="#2e2e2e" stroke="#2e2e2e" stroke-width="0.25" transform="rotate(-90 21.7 414.8)" textLength="55.5" lengthAdjust="spacingAndGlyphs">Percent survival</text>
<text x="113" y="486.7" font-size="9.3" text-anchor="middle" fill="#2e2e2e" color="#2e2e2e" textLength="16.3" lengthAdjust="spacingAndGlyphs" stroke="#2e2e2e" stroke-width="0.3">Days</text>
<path d="M44.9 372.55L156.4 372.55" stroke="#66933b" stroke-width="1.1" fill="none"/>
<path d="M120.19 372.55L120.19 381.43L123.52 381.43L123.52 390.3L131.15 390.3L131.15 399.18L132.86 399.18L132.86 408.05L156.4 408.05" stroke="#66933b" stroke-width="1.0" fill="none"/>
<path d="M123.52 372.55L123.52 390.3L156.4 390.3" stroke="#66933b" stroke-width="1.0" fill="none"/>
<circle cx="120.19" cy="381.43" r="1.75" stroke="#66933b" stroke-width="1.25" fill="#dfeec8"/>
<circle cx="123.52" cy="390.3" r="1.75" stroke="#66933b" stroke-width="1.25" fill="#dfeec8"/>
<circle cx="131.15" cy="399.18" r="1.75" stroke="#66933b" stroke-width="1.25" fill="#dfeec8"/>
<circle cx="132.86" cy="408.05" r="1.75" stroke="#66933b" stroke-width="1.25" fill="#dfeec8"/>
<circle cx="156.4" cy="408.05" r="1.75" stroke="#66933b" stroke-width="1.25" fill="#dfeec8"/>
<circle cx="124" cy="390.3" r="1.75" stroke="#66933b" stroke-width="0.85" fill="#fff"/>
<circle cx="156.4" cy="390.3" r="1.75" stroke="#66933b" stroke-width="0.85" fill="#fff"/>
<circle cx="156.4" cy="372.55" r="1.8" stroke="#66933b" stroke-width="0.6" fill="#66933b"/>
<path d="M75.97 372.55L75.97 425.8L79.97 425.8L79.97 461.3" stroke="#b9bcbf" stroke-width="1.0" fill="none"/>
<path d="M76.54 414.73L78.63 418.47L74.45 418.47Z" stroke="#b9bcbf" stroke-width="0.7" fill="#fff"/>
<path d="M76.54 423.6L78.63 427.34L74.45 427.34Z" stroke="#b9bcbf" stroke-width="0.7" fill="#fff"/>
<path d="M44.9 372.55L72.73 372.55L72.73 443.55L74.82 443.55L74.82 461.3" stroke="#7f1739" stroke-width="1.3" fill="none"/>
<path d="M70.83 441.65L74.63 445.45M70.83 445.45L74.63 441.65" stroke="#7f1739" stroke-width="1.3" fill="none"/>
<path d="M72.92 459.4L76.72 463.2M72.92 463.2L76.72 459.4" stroke="#7f1739" stroke-width="1.3" fill="none"/>
<path d="M53.2 378.3H56.4L54.8 375.1Z" fill="#111"/>
<text x="49.2" y="384.2" font-size="5.5" text-anchor="start" fill="#2e2e2e" color="#2e2e2e" textLength="12.1" lengthAdjust="spacingAndGlyphs">Dose</text>
<path d="M172.7 383.2H182.4" stroke="#7f1739" stroke-width="1.1"/>
<path d="M175.65 381.3L179.45 385.1M175.65 385.1L179.45 381.3" stroke="#7f1739" stroke-width="1.3" fill="none"/>
<text x="186" y="385.8" font-size="6.8" text-anchor="start" fill="#2e2e2e" color="#2e2e2e" textLength="29.4" lengthAdjust="spacingAndGlyphs">Untreated</text>
<path d="M172.7 393.4H182.4" stroke="#66933b" stroke-width="1.1"/>
<circle cx="177.55" cy="393.4" r="1.75" stroke="#66933b" stroke-width="1.25" fill="#dfeec8"/>
<text x="186" y="396" font-size="6.8" text-anchor="start" fill="#2e2e2e" color="#2e2e2e" textLength="67" lengthAdjust="spacingAndGlyphs">SGN-CD19B 10 μg/kg</text>
<path d="M172.7 403.6H182.4" stroke="#66933b" stroke-width="1.1"/>
<circle cx="177.55" cy="403.6" r="1.75" stroke="#66933b" stroke-width="0.85" fill="#fff"/>
<text x="186" y="406.2" font-size="6.8" text-anchor="start" fill="#2e2e2e" color="#2e2e2e" textLength="67" lengthAdjust="spacingAndGlyphs">SGN-CD19B 30 μg/kg</text>
<path d="M172.7 413.8H182.4" stroke="#66933b" stroke-width="1.1"/>
<circle cx="177.55" cy="413.8" r="1.8" stroke="#66933b" stroke-width="0.6" fill="#66933b"/>
<text x="186" y="416.4" font-size="6.8" text-anchor="start" fill="#2e2e2e" color="#2e2e2e" textLength="70" lengthAdjust="spacingAndGlyphs">SGN-CD19B 100 μg/kg</text>
<path d="M172.7 424H182.4" stroke="#b9bcbf" stroke-width="1.1"/>
<path d="M177.55 421.8L179.64 425.54L175.46 425.54Z" stroke="#b9bcbf" stroke-width="0.7" fill="#fff"/>
<text x="186" y="426.6" font-size="6.8" text-anchor="start" fill="#2e2e2e" color="#2e2e2e" textLength="70" lengthAdjust="spacingAndGlyphs">Control ADC 100 μg/kg</text>
</g>
<rect x="0.7" y="0.7" width="518.6" height="494.6" fill="none" stroke="#000" stroke-width="1.5"/>
</svg></body></html>
